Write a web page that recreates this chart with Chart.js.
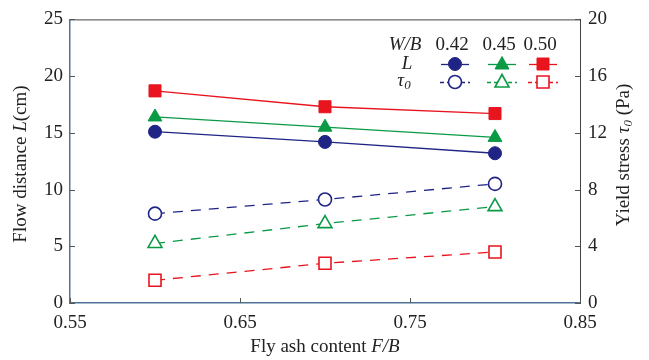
<!DOCTYPE html>
<html>
<head>
<meta charset="utf-8">
<script src="https://cdn.jsdelivr.net/npm/chart.js@4.4.0/dist/chart.umd.min.js"></script>
<style>
  html, body { margin: 0; padding: 0; background: #fff; }
  #wrap { width: 649px; height: 360px; }
</style>
</head>
<body>
<div id="wrap"><canvas id="chart" width="649" height="360"></canvas></div>
<script>
// fly ash content F/B
const flyAsh = [0.6, 0.7, 0.8];
const xTicks = [0.55, 0.65, 0.75, 0.85];

// flow distance L (cm), one list per W/B
const flow042 = [15.1, 14.2, 13.2];
const flow045 = [16.4, 15.5, 14.6];
const flow050 = [18.7, 17.3, 16.7];

// yield stress tau0 (Pa)
const tau042 = [6.3, 7.3, 8.4];
const tau045 = [4.2, 5.6, 6.8];
const tau050 = [1.6, 2.8, 3.6];

const wbLabels = ['0.42', '0.45', '0.50'];

const BLUE = '#1f2485';
const GREEN = '#0a9a45';
const RED = '#e8141e';
const SERIF = '"Liberation Serif", "Times New Roman", serif';

function pts(ys) {
    return flyAsh.map((x, i) => ({ x: x, y: ys[i] }));
}

function flowSet(label, ys, color, shape, r) {
    return {
        label: label, data: pts(ys), yAxisID: 'y',
        borderColor: color, borderWidth: 1.3,
        pointStyle: shape, pointRadius: r, pointBackgroundColor: color,
        pointBorderColor: color, pointBorderWidth: 1
    };
}

function tauSet(label, ys, color, shape, r) {
    return {
        label: label, data: pts(ys), yAxisID: 'y1',
        borderColor: color, borderWidth: 1.3, borderDash: [10, 8],
        pointStyle: shape, pointRadius: r, pointBackgroundColor: '#fff',
        pointBorderColor: color, pointBorderWidth: 1.6
    };
}

// text made of runs with different fonts (italic letters, subscripts)
function drawRuns(ctx, runs, cx, cy) {
    let total = 0;
    runs.forEach(r => { ctx.font = r.font; total += ctx.measureText(r.text).width; });
    let x = cx - total / 2;
    ctx.textAlign = 'left';
    ctx.textBaseline = 'middle';
    runs.forEach(r => {
        ctx.font = r.font;
        ctx.fillText(r.text, x, cy + (r.dy || 0));
        x += ctx.measureText(r.text).width;
    });
}

function marker(ctx, shape, x, y, color, filled) {
    ctx.save();
    ctx.beginPath();
    if (shape === 'circle') {
        ctx.arc(x, y, 6.5, 0, Math.PI * 2);
    } else if (shape === 'triangle') {
        ctx.moveTo(x, y - 7.5);
        ctx.lineTo(x + 7, y + 5);
        ctx.lineTo(x - 7, y + 5);
        ctx.closePath();
    } else {
        ctx.rect(x - 6, y - 6, 12, 12);
    }
    ctx.fillStyle = filled ? color : '#fff';
    ctx.fill();
    ctx.strokeStyle = color;
    ctx.lineWidth = filled ? 1 : 1.6;
    ctx.stroke();
    ctx.restore();
}

const decor = {
    id: 'decor',
    afterDraw(chart) {
        const ctx = chart.ctx;
        const a = chart.chartArea;
        const sx = chart.scales.x, sy = chart.scales.y, sy1 = chart.scales.y1;
        ctx.save();

        // top frame line
        ctx.strokeStyle = '#444';
        ctx.lineWidth = 1;
        ctx.beginPath();
        ctx.moveTo(a.left, a.top + 0.5);
        ctx.lineTo(a.right, a.top + 0.5);
        ctx.stroke();

        // inward tick marks
        ctx.strokeStyle = '#555';
        ctx.beginPath();
        sy.ticks.forEach(t => {
            const p = Math.round(sy.getPixelForValue(t.value)) + 0.5;
            ctx.moveTo(a.left, p); ctx.lineTo(a.left + 5, p);
        });
        sy1.ticks.forEach(t => {
            const p = Math.round(sy1.getPixelForValue(t.value)) + 0.5;
            ctx.moveTo(a.right, p); ctx.lineTo(a.right - 5, p);
        });
        sx.ticks.forEach(t => {
            const p = Math.round(sx.getPixelForValue(t.value)) + 0.5;
            ctx.moveTo(p, a.bottom); ctx.lineTo(p, a.bottom - 5);
        });
        ctx.stroke();

        // axis titles
        ctx.fillStyle = '#222';
        const reg = '19px ' + SERIF, ita = 'italic 19px ' + SERIF, sub = 'italic 13px ' + SERIF;
        drawRuns(ctx, [{ text: 'Fly ash content ', font: reg }, { text: 'F/B', font: ita }], 325, 347);

        ctx.save();
        ctx.translate(21, 164);
        ctx.rotate(-Math.PI / 2);
        drawRuns(ctx, [{ text: 'Flow distance ', font: reg }, { text: 'L', font: ita }, { text: '(cm)', font: reg }], 0, 0);
        ctx.restore();

        ctx.save();
        ctx.translate(624, 155);
        ctx.rotate(-Math.PI / 2);
        drawRuns(ctx, [{ text: 'Yield stress ', font: reg }, { text: '\u03c4', font: ita },
            { text: '0', font: sub, dy: 5 }, { text: ' (Pa)', font: reg }], 0, 0);
        ctx.restore();

        // legend table
        drawRuns(ctx, [{ text: 'W/B', font: ita }], 405, 45);
        drawRuns(ctx, [{ text: 'L', font: ita }], 407, 64);
        drawRuns(ctx, [{ text: '\u03c4', font: ita }, { text: '0', font: sub, dy: 5 }], 404, 81);
        const cols = [455, 502, 543];
        const colors = [BLUE, GREEN, RED];
        const shapes = ['circle', 'triangle', 'rect'];
        cols.forEach((c, i) => {
            drawRuns(ctx, [{ text: wbLabels[i], font: reg }], c - 3 + (i === 2 ? 0 : 0), 45);
            ctx.strokeStyle = colors[i];
            ctx.lineWidth = 1.3;
            ctx.setLineDash([]);
            ctx.beginPath();
            ctx.moveTo(c - 14, 64.5); ctx.lineTo(c + 14, 64.5);
            ctx.stroke();
            marker(ctx, shapes[i], c, 64, colors[i], true);
            ctx.setLineDash([4, 3]);
            ctx.beginPath();
            ctx.moveTo(c - 15, 82.5); ctx.lineTo(c + 15, 82.5);
            ctx.stroke();
            ctx.setLineDash([]);
            marker(ctx, shapes[i], c, 82, colors[i], false);
        });
        ctx.restore();
    }
};

const tickFont = { family: SERIF, size: 19 };

new Chart(document.getElementById('chart').getContext('2d'), {
    type: 'line',
    data: {
        datasets: [
            flowSet('L 0.42', flow042, BLUE, 'circle', 6.5),
            flowSet('L 0.45', flow045, GREEN, 'triangle', 8),
            flowSet('L 0.50', flow050, RED, 'rect', 8.5),
            tauSet('tau 0.42', tau042, BLUE, 'circle', 6.5),
            tauSet('tau 0.45', tau045, GREEN, 'triangle', 8),
            tauSet('tau 0.50', tau050, RED, 'rect', 8.5)
        ]
    },
    options: {
        responsive: false,
        animation: false,
        layout: { padding: { top: 18, left: 0, right: 0, bottom: 0 } },
        plugins: { legend: { display: false }, tooltip: { enabled: false } },
        scales: {
            x: {
                type: 'linear', min: 0.55, max: 0.85,
                afterBuildTicks: s => { s.ticks = xTicks.map(v => ({ value: v })); },
                afterFit: s => { s.height = 57; },
                grid: { display: true, drawOnChartArea: false, drawTicks: false },
                border: { display: true, color: '#4f7398', width: 1.5 },
                ticks: { font: tickFont, color: '#222', padding: 9, callback: v => v.toFixed(2) }
            },
            y: {
                position: 'left', min: 0, max: 25,
                afterFit: s => { s.width = 70; },
                grid: { display: true, drawOnChartArea: false, drawTicks: false },
                border: { display: true, color: '#4f7398', width: 1.5 },
                ticks: { font: tickFont, color: '#222', padding: 7, stepSize: 5 }
            },
            y1: {
                position: 'right', min: 0, max: 20,
                afterFit: s => { s.width = 69; },
                grid: { display: true, drawOnChartArea: false, drawTicks: false },
                border: { display: true, color: '#444', width: 1 },
                ticks: { font: tickFont, color: '#222', padding: 8, stepSize: 4 }
            }
        }
    },
    plugins: [decor]
});
</script>
</body>
</html>
